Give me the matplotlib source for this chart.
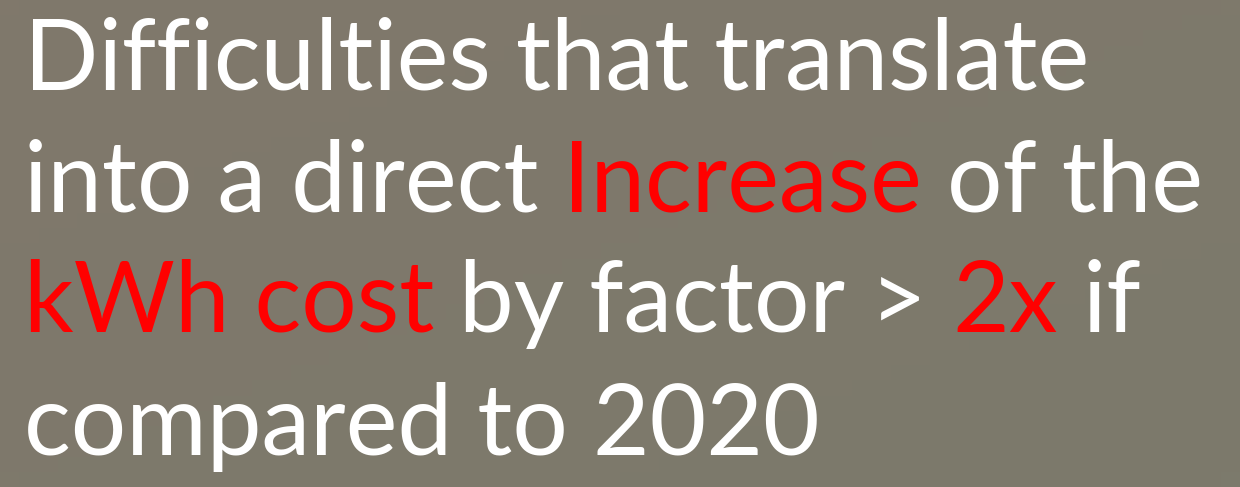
import numpy as np
import matplotlib
matplotlib.use("Agg")
import matplotlib.pyplot as plt

# text lines, each as (segment, highlighted?)
line1 = [("Difficulties that translate", False)]
line2 = [("into a direct ", False), ("Increase", True), (" of the", False)]
line3 = [("kWh cost", True), (" by factor > ", False), ("2x", True), (" if", False)]
line4 = [("compared to 2020", False)]
lines = [line1, line2, line3, line4]
baselines = [90, 211, 332, 455]

fam = "Lato"
size = 70.5
white = "#ffffff"
red = "#ff0000"

fig = plt.figure(figsize=(12.4, 4.87), dpi=100)
ax = fig.add_axes([0, 0, 1, 1])
ax.set_xlim(0, 1240)
ax.set_ylim(487, 0)
ax.axis("off")

# soft background gradient
gx, gy = np.meshgrid(np.linspace(0, 1, 64), np.linspace(0, 1, 32))
c0 = np.array([0x80, 0x78, 0x6b]) / 255
c1 = np.array([0x7c, 0x7a, 0x6c]) / 255
t = (gx + gy) / 2
bg = c0[None, None, :] * (1 - t[..., None]) + c1[None, None, :] * t[..., None]
ax.imshow(bg, extent=(0, 1240, 487, 0), aspect="auto", zorder=0)

fig.canvas.draw()
r = fig.canvas.get_renderer()
inv = ax.transData.inverted()

for segs, yb in zip(lines, baselines):
    x = 24
    for s, hot in segs:
        tx = ax.text(x, yb, s, fontsize=size, family=fam, color=red if hot else white,
                     va="baseline", ha="left", zorder=2)
        bb = tx.get_window_extent(renderer=r)
        x = inv.transform((bb.x1, 0))[0]

fig.savefig("out.png", dpi=100)
